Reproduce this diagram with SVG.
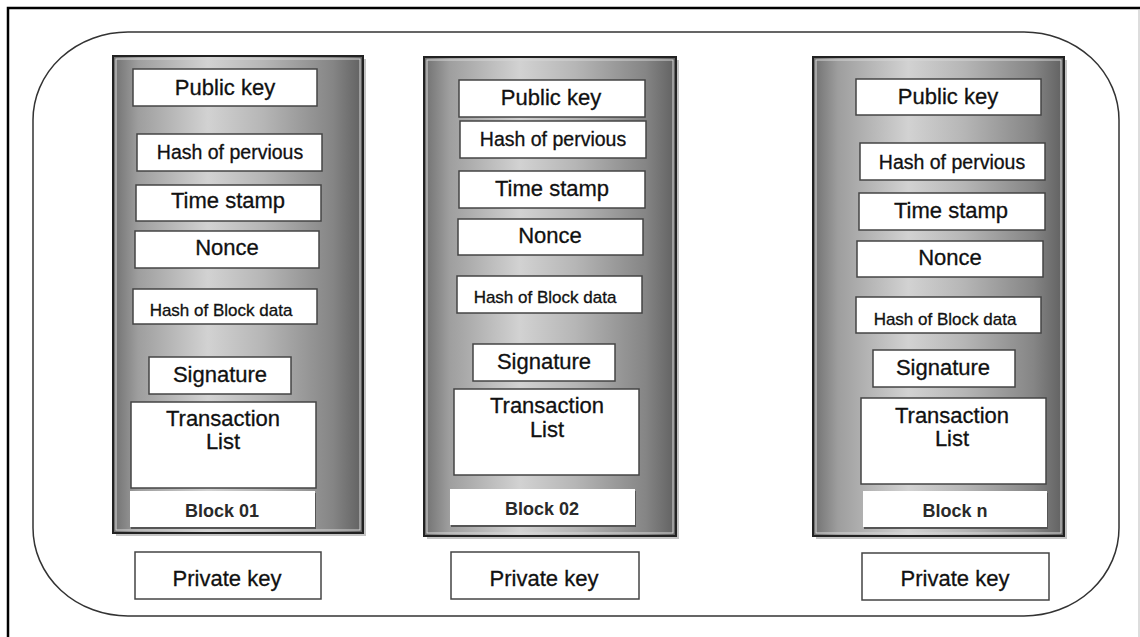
<svg xmlns="http://www.w3.org/2000/svg" width="1140" height="637" viewBox="0 0 1140 637">
<defs>
<linearGradient id="col" x1="0" y1="0" x2="1" y2="0">
<stop offset="0" stop-color="#707070"/>
<stop offset="0.1" stop-color="#9e9e9e"/>
<stop offset="0.38" stop-color="#d2d2d2"/>
<stop offset="0.6" stop-color="#b6b6b6"/>
<stop offset="0.88" stop-color="#858585"/>
<stop offset="1" stop-color="#606060"/>
</linearGradient>
<style>
.col{fill:url(#col);stroke:#222;stroke-width:2}
.colsh{fill:#c4c4c4}
.colin{fill:none;stroke:#d8d8d8;stroke-width:1}
.box{fill:#fff;stroke:#444;stroke-width:1.5}
.lbl{fill:#fff}
.lblsh{fill:#555}
text{font-family:"Liberation Sans",Arial,sans-serif;fill:#111;stroke:#111;stroke-width:0.3;text-anchor:middle}
.t{font-size:22px}
.h{font-size:19.5px}
.hb{font-size:17px}
.b{font-size:18px;font-weight:bold;fill:#2a2a2a;stroke:none}
</style>
</defs>
<rect width="1140" height="637" fill="#fff"/>
<g id="frame">
<path d="M8 637 V8 H1140" fill="none" stroke="#000" stroke-width="2.5"/>
<line x1="1139" y1="10" x2="1139" y2="637" stroke="#bbb" stroke-width="1"/>
<rect x="33" y="32" width="1086" height="584" rx="95" ry="88" fill="none" stroke="#333" stroke-width="1.5"/>
</g>

<g id="block1">
<rect class="colsh" x="116" y="59" width="250" height="477"/>
<rect class="col" x="113" y="56" width="250" height="477"/>
<rect class="colin" x="116" y="59" width="244" height="471"/>
<rect class="box" x="133" y="69" width="184" height="37"/><text class="t" x="225" y="95">Public key</text>
<rect class="box" x="137" y="134" width="185" height="37"/><text class="h" x="230" y="159">Hash of pervious</text>
<rect class="box" x="136" y="185" width="185" height="36"/><text class="t" x="228" y="208">Time stamp</text>
<rect class="box" x="135" y="231" width="184" height="37"/><text class="t" x="227" y="255">Nonce</text>
<rect class="box" x="133" y="289" width="184" height="35"/><text class="hb" x="221" y="316">Hash of Block data</text>
<rect class="box" x="149" y="357" width="142" height="37"/><text class="t" x="220" y="382">Signature</text>
<rect class="box" x="131" y="402" width="185" height="86"/><text class="t" x="223" y="426">Transaction</text><text class="t" x="223" y="449">List</text>
<rect class="lblsh" x="131" y="493" width="185" height="36"/>
<rect class="lbl" x="130" y="491" width="185" height="36"/><text class="b" x="222" y="517">Block 01</text>
</g>
<g id="pk1"><rect class="box" x="135" y="552" width="186" height="47"/><text class="t" x="227" y="586">Private key</text></g>

<g id="block2">
<rect class="colsh" x="427" y="60" width="252" height="479"/>
<rect class="col" x="424" y="57" width="252" height="479"/>
<rect class="colin" x="427" y="60" width="246" height="473"/>
<rect class="box" x="459" y="80" width="186" height="37"/><text class="t" x="551" y="105">Public key</text>
<rect class="box" x="460" y="121" width="186" height="37"/><text class="h" x="553" y="146">Hash of pervious</text>
<rect class="box" x="459" y="171" width="186" height="37"/><text class="t" x="552" y="196">Time stamp</text>
<rect class="box" x="458" y="219" width="185" height="36"/><text class="t" x="550" y="243">Nonce</text>
<rect class="box" x="457" y="276" width="185" height="37"/><text class="hb" x="545" y="303">Hash of Block data</text>
<rect class="box" x="473" y="344" width="142" height="37"/><text class="t" x="544" y="369">Signature</text>
<rect class="box" x="454" y="389" width="185" height="86"/><text class="t" x="547" y="413">Transaction</text><text class="t" x="547" y="437">List</text>
<rect class="lblsh" x="451" y="491" width="185" height="36"/>
<rect class="lbl" x="450" y="489" width="185" height="36"/><text class="b" x="542" y="515">Block 02</text>
</g>
<g id="pk2"><rect class="box" x="451" y="552" width="188" height="47"/><text class="t" x="544" y="586">Private key</text></g>

<g id="block3">
<rect class="colsh" x="816" y="60" width="251" height="479"/>
<rect class="col" x="813" y="57" width="251" height="479"/>
<rect class="colin" x="816" y="60" width="245" height="473"/>
<rect class="box" x="856" y="79" width="185" height="36"/><text class="t" x="948" y="104">Public key</text>
<rect class="box" x="860" y="143" width="185" height="37"/><text class="h" x="952" y="169">Hash of pervious</text>
<rect class="box" x="859" y="193" width="186" height="37"/><text class="t" x="951" y="218">Time stamp</text>
<rect class="box" x="857" y="241" width="186" height="36"/><text class="t" x="950" y="265">Nonce</text>
<rect class="box" x="856" y="297" width="185" height="36"/><text class="hb" x="945" y="325">Hash of Block data</text>
<rect class="box" x="873" y="350" width="142" height="37"/><text class="t" x="943" y="375">Signature</text>
<rect class="box" x="861" y="398" width="185" height="86"/><text class="t" x="952" y="423">Transaction</text><text class="t" x="952" y="446">List</text>
<rect class="lblsh" x="864" y="493" width="184" height="36"/>
<rect class="lbl" x="863" y="491" width="184" height="36"/><text class="b" x="955" y="517">Block n</text>
</g>
<g id="pk3"><rect class="box" x="862" y="553" width="187" height="47"/><text class="t" x="955" y="586">Private key</text></g>

<g id="connectors"></g>
</svg>
